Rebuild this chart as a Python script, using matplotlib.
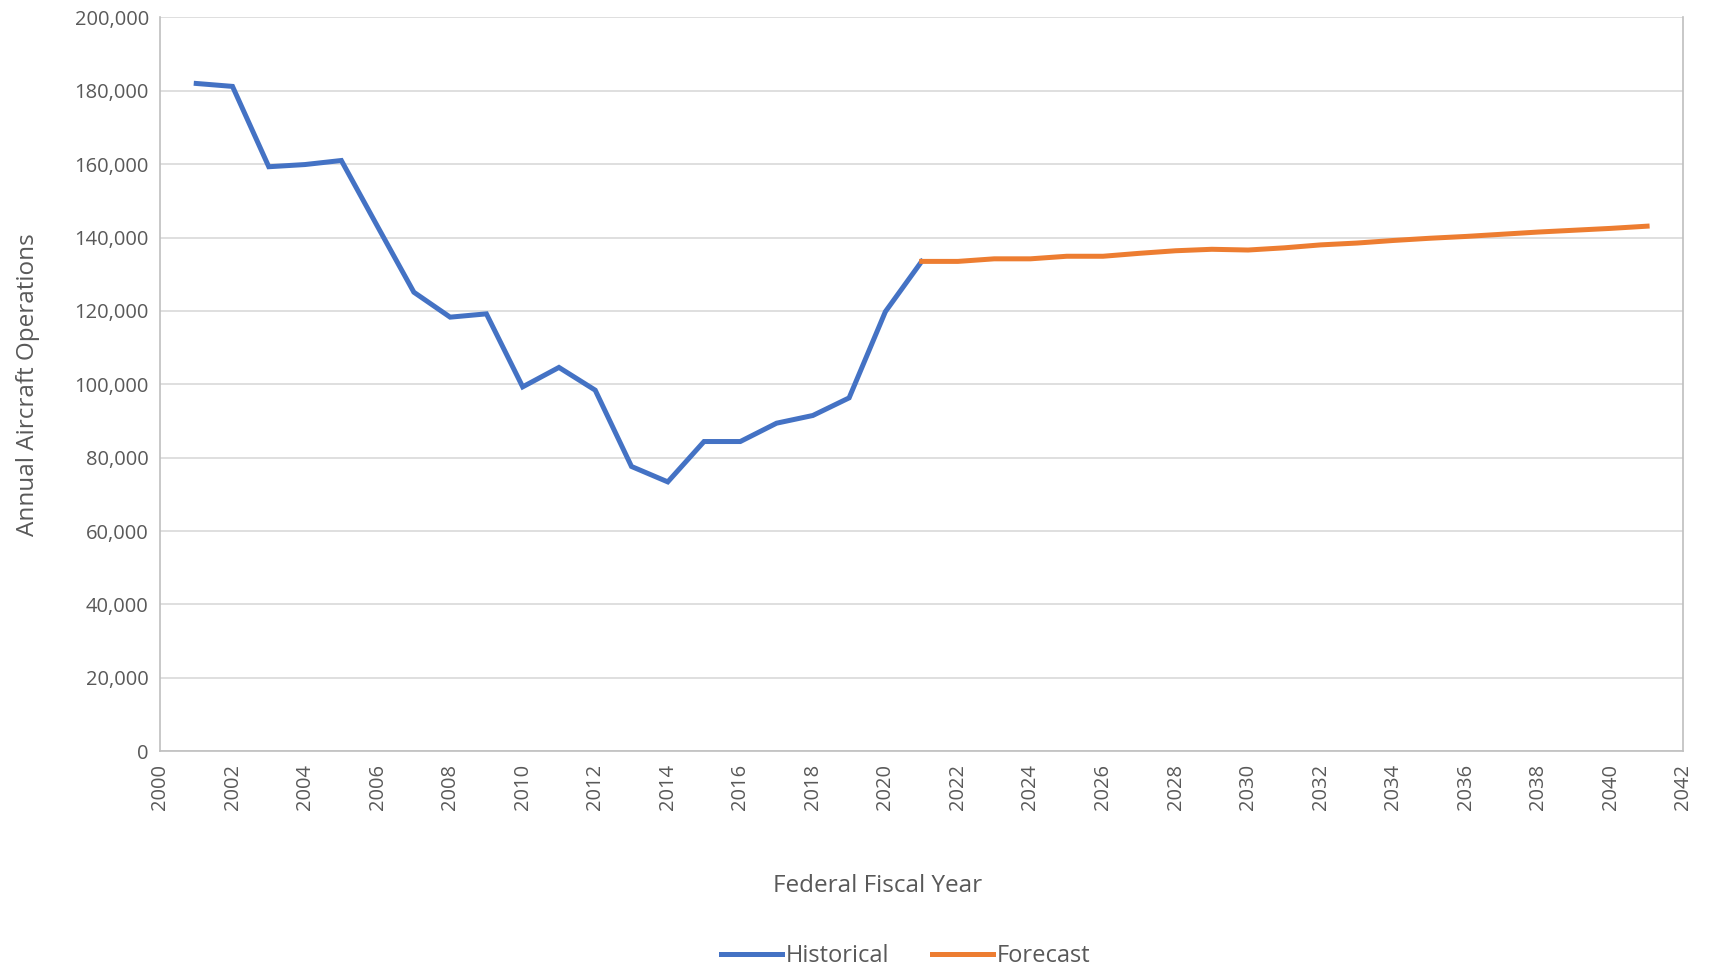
import numpy as np
import matplotlib.pyplot as plt
from matplotlib.ticker import FuncFormatter

plt.rcParams['font.family'] = ['Open Sans', 'DejaVu Sans']

# annual operations, historical and forecast
histYears = list(range(2001, 2022))
histOps = [182000, 181200, 159300, 159900, 161000, 143000, 125100, 118300, 119200,
           99300, 104600, 98400, 77600, 73400, 84400, 84400, 89400, 91500, 96300,
           119800, 133500]

fcstYears = list(range(2021, 2042))
fcstOps = [133500, 133500, 134200, 134200, 134900, 134900, 135700, 136400, 136800,
           136600, 137200, 138000, 138500, 139200, 139800, 140300, 140900, 141500,
           142000, 142500, 143100]

textGray = "#595959"
gridGray = "#d9d9d9"

fig = plt.figure(figsize=(17.09, 9.68), dpi=100)
ax = fig.add_axes([0.0936, 0.224, 0.8914, 0.758])

ax.plot(histYears, histOps, color="#4472C4", linewidth=3.6, label="Historical",
        solid_joinstyle="miter")
ax.plot(fcstYears, fcstOps, color="#ED7D31", linewidth=3.6, label="Forecast")

ax.set_xlim(2000, 2042)
ax.set_ylim(0, 200000)
ax.set_xticks(np.arange(2000, 2043, 2))
ax.set_yticks(np.arange(0, 200001, 20000))
ax.yaxis.set_major_formatter(FuncFormatter(lambda v, p: f"{int(v):,}"))
ax.tick_params(axis="x", labelrotation=90, length=0, pad=9, labelsize=14.5, labelcolor=textGray)
ax.tick_params(axis="y", length=0, pad=8, labelsize=14.5, labelcolor=textGray)

ax.grid(axis="y", color=gridGray, linewidth=1.2)
ax.set_axisbelow(True)
for side in ["left", "bottom", "right"]:
    ax.spines[side].set_color("#bfbfbf")
    ax.spines[side].set_linewidth(1.2)
ax.spines["top"].set_visible(False)

ax.set_ylabel("Annual Aircraft Operations", fontsize=17.5, color=textGray, labelpad=25)
ax.set_xlabel("Federal Fiscal Year", fontsize=17.5, color=textGray)
ax.xaxis.set_label_coords(0.471, -0.168)

fig.legend(loc="lower center", bbox_to_anchor=(0.53, -0.022), ncol=2, frameon=False,
           fontsize=17, handlelength=2.6, handletextpad=0.15, columnspacing=1.8,
           labelcolor=textGray)

fig.savefig("out.png", dpi=100, facecolor="white")
